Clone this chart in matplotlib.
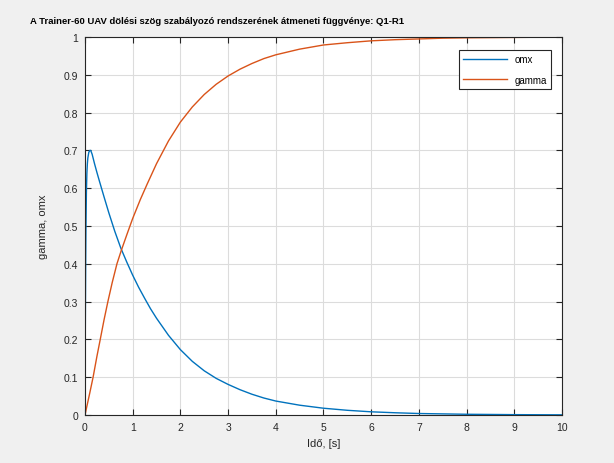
import numpy as np
import matplotlib.pyplot as plt

# idő [s] és a leolvasott értékek
t_omx = [0, 0.005, 0.01, 0.015, 0.02, 0.03, 0.04, 0.05, 0.06, 0.08, 0.1, 0.12, 0.15,
         0.2, 0.25, 0.3, 0.4, 0.5, 0.625, 0.75, 0.875, 1, 1.125, 1.25, 1.375, 1.5,
         1.75, 2, 2.25, 2.5, 2.75, 3, 3.25, 3.5, 3.75, 4, 4.5, 5, 5.5, 6, 6.5, 7,
         8, 9, 10]
omx = [0, 0.18, 0.30, 0.41, 0.49, 0.59, 0.64, 0.665, 0.68, 0.695, 0.70, 0.70, 0.69,
       0.665, 0.642, 0.62, 0.577, 0.535, 0.486, 0.442, 0.405, 0.37, 0.338, 0.309, 0.281,
       0.256, 0.211, 0.173, 0.142, 0.117, 0.097, 0.081, 0.067, 0.055, 0.045, 0.037,
       0.026, 0.018, 0.0125, 0.0085, 0.006, 0.004, 0.002, 0.001, 0.0005]

t_gamma = [0, 0.1, 0.17, 0.25, 0.32, 0.4, 0.48, 0.57, 0.67, 0.76, 0.88, 1.0, 1.16,
           1.3, 1.5, 1.75, 2, 2.25, 2.5, 2.75, 3, 3.25, 3.5, 3.75, 4, 4.5, 5, 5.5,
           6, 6.5, 7, 7.5, 8, 9, 10]
gamma = [0, 0.058, 0.10, 0.155, 0.20, 0.252, 0.30, 0.35, 0.40, 0.435, 0.478, 0.52,
         0.57, 0.61, 0.665, 0.725, 0.775, 0.815, 0.848, 0.875, 0.897, 0.915, 0.93,
         0.943, 0.953, 0.968, 0.979, 0.985, 0.99, 0.993, 0.995, 0.997, 0.998, 0.999,
         1.0]

xticks = np.arange(0, 11, 1)
yticks = np.arange(0, 1.01, 0.1)

plt.rcParams['font.family'] = ['Liberation Sans', 'DejaVu Sans']

fig = plt.figure(figsize=(6.14, 4.64), dpi=100, facecolor='#f0f0f0')
ax = fig.add_axes([0.1384, 0.1034, 0.7769, 0.8146])

ax.plot(t_omx, omx, color='#0072BD', lw=1.0, label='omx')
ax.plot(t_gamma, gamma, color='#D95319', lw=1.0, label='gamma')

ax.set_xlim(0, 10)
ax.set_ylim(0, 1)
ax.set_xticks(xticks)
ax.set_yticks(yticks)
ax.set_xticklabels([f'{v:g}' for v in xticks])
ax.set_yticklabels([f'{v:g}' for v in np.round(yticks, 1)])
ax.tick_params(direction='in', top=True, right=True, length=4, width=0.8,
               labelsize=7.5, colors='#262626', pad=5)
for s in ax.spines.values():
    s.set_color('#262626')
    s.set_linewidth(0.8)
ax.grid(True, color='#dcdcdc', lw=0.8)
ax.set_axisbelow(True)

ax.set_xlabel('Idő, [s]', fontsize=8, color='#262626', labelpad=4)
ax.set_ylabel('gamma, omx', fontsize=8, color='#262626', labelpad=11)
fig.text(30 / 614, 1 - 21 / 464,
         'A Trainer-60 UAV dölési szög szabályozó rendszerének átmeneti függvénye: Q1-R1',
         fontsize=6.8, fontweight='bold', va='center', ha='left')

leg = ax.legend(loc='upper right', bbox_to_anchor=(0.977, 0.9656), borderaxespad=0,
                fontsize=7, handlelength=4.5, labelspacing=1.1, fancybox=False,
                framealpha=1, edgecolor='#262626')
leg.get_frame().set_linewidth(0.8)

fig.savefig('out.png', dpi=100, facecolor=fig.get_facecolor())
